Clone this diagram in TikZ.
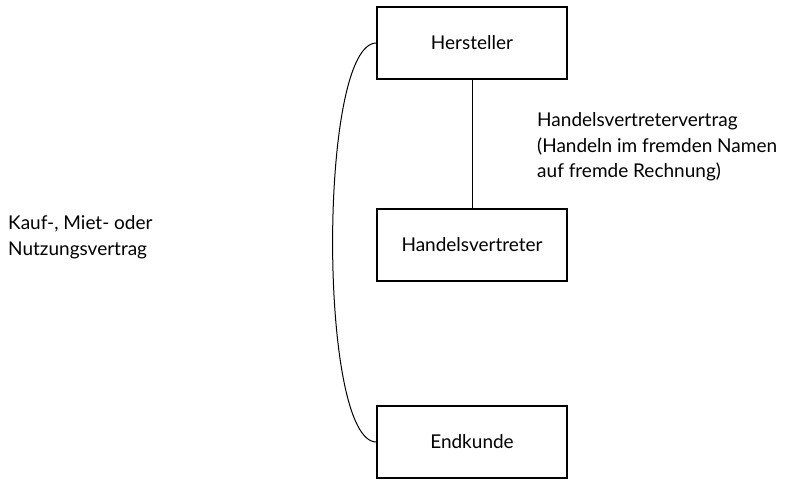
\documentclass[tikz,border=0pt]{standalone}
\usepackage{fontspec}
\setmainfont{Lato}
\begin{document}
\begin{tikzpicture}[x=1pt,y=-1pt,
  box/.style={draw,line width=1.2pt,minimum width=190pt,minimum height=72pt,inner sep=0pt,font=\fontsize{19}{25.5}\selectfont},
  lbl/.style={inner sep=0pt,align=left,font=\fontsize{19}{25.5}\selectfont},
  conn/.style={line width=1pt}]
\useasboundingbox (0,0) rectangle (795,480);
\node[box] (h) at (472,43) {Hersteller};
\node[box] (v) at (472,245) {Handelsvertreter};
\node[box] (e) at (472,442) {Endkunde};
\draw[conn] (h.south) -- (v.north);
\draw[conn] (h.west) .. controls (318,43) and (318,442) .. (e.west);
\node[lbl,anchor=west] (t1) at (537,147) {Handelsvertretervertrag\\(Handeln im fremden Namen\\auf fremde Rechnung)};
\node[lbl,anchor=west] (t2) at (8,237) {Kauf-, Miet- oder\\Nutzungsvertrag};
\end{tikzpicture}
\end{document}
